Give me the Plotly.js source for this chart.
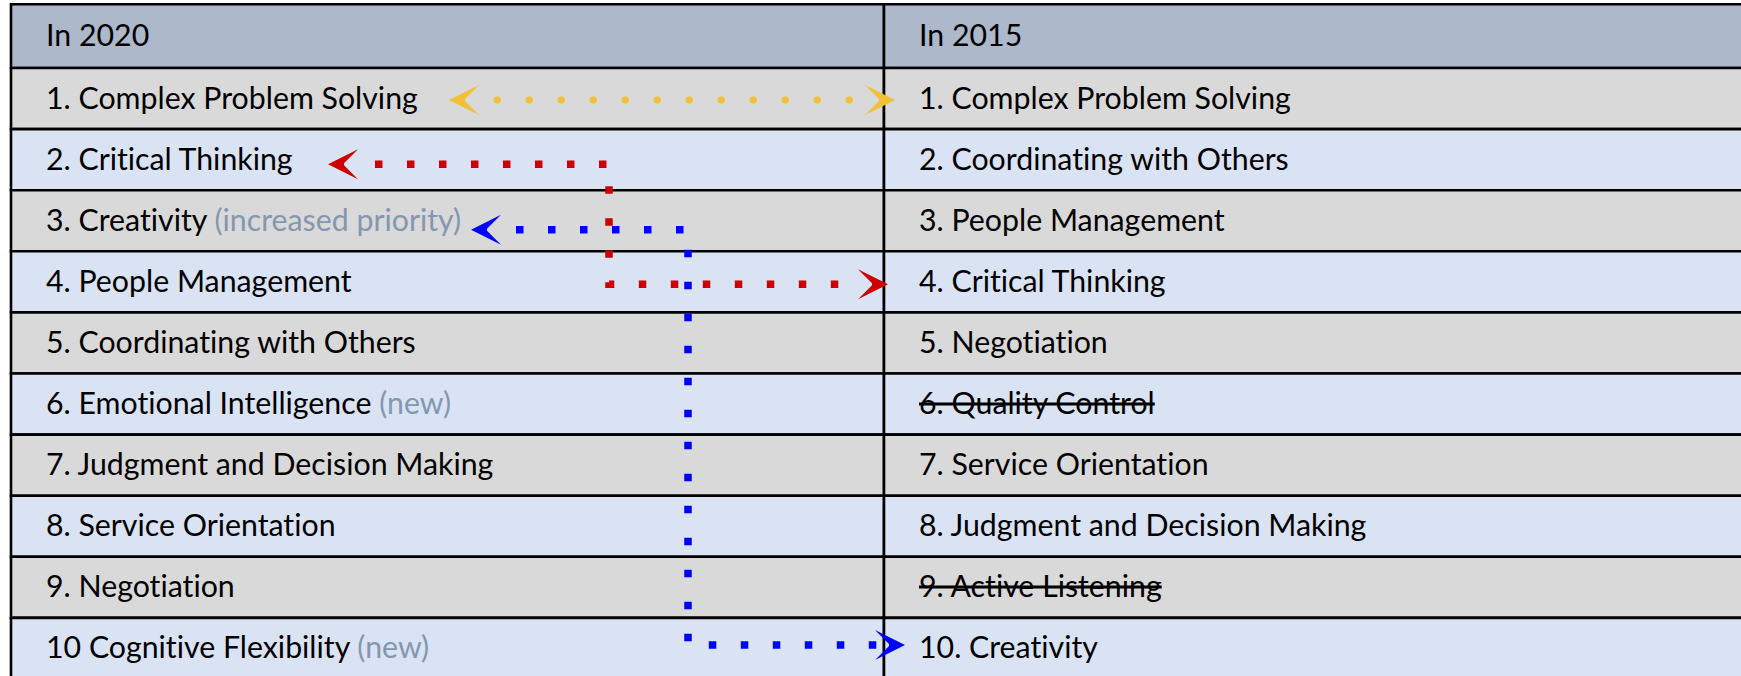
<!DOCTYPE html>
<html><head><meta charset="utf-8">
<script src="https://cdn.plot.ly/plotly-3.0.1.min.js"></script>
<style>html,body{margin:0;padding:0;background:#fff;overflow:hidden}
text{font-variant-ligatures:none;font-feature-settings:"liga" 0,"clig" 0;}</style>
</head><body><div id="chart" style="width:1741px;height:676px"></div>
<script>
// ---------- data ----------
const headers = ['In 2020', 'In 2015'];
const skills2020 = ['1. Complex Problem Solving', '2. Critical Thinking', '3. Creativity', '4. People Management',
  '5. Coordinating with Others', '6. Emotional Intelligence', '7. Judgment and Decision Making',
  '8. Service Orientation', '9. Negotiation', '10 Cognitive Flexibility'];
const notes2020 = ['', '', '(increased priority)', '', '', '(new)', '', '', '', '(new)'];
const skills2015 = ['1. Complex Problem Solving', '2. Coordinating with Others', '3. People Management',
  '4. Critical Thinking', '5. Negotiation', '6. Quality Control', '7. Service Orientation',
  '8. Judgment and Decision Making', '9. Active Listening', '10. Creativity'];
const dropped2015 = [false, false, false, false, false, true, false, false, true, false];
// skills linked between the two rankings
const linkSkills = ['Complex Problem Solving', 'Critical Thinking', 'Creativity'];
const linkRank2020 = [1, 2, 3];
const linkRank2015 = [1, 4, 10];

// ---------- style / geometry ----------
const W = 1741, H = 676;
const tableLeft = 11, divider = 884, tableRight = 1765;
const headTop = 4.3, headBottom = 68, rowH = 61.1;
const textPad = 33;
const fillHeader = '#ADB9CA', fillGray = '#D9D9D9', fillBlue = '#DAE3F3';
const noteColor = '#8497B0';
const FONT = 'Lato, "Noto Sans", sans-serif';
const FS = 30.3;
const linkColors = ['#F2C037', '#CC0000', '#0000FF'];
const linkLeftTip = [449, 328, 471];
const linkRightTip = [895, 888, 905];
const linkElbow = [null, 609, 688];
const linkStartOff = [1.5, 4.5, 9];
const linkEndOff = [1.5, 2.5, -3.5];
const linkDotStart = [497, 375, 516];
const linkDotEnd = [852, 840, 880];
const headBack = 16;

function rowTop(i) { return i === 0 ? headTop : headBottom + (i - 1) * rowH; }
function rowBot(i) { return i === 0 ? headBottom : headBottom + i * rowH; }
function rowMid(i) { return (rowTop(i) + rowBot(i)) / 2; }

const shapes = [];
const annotations = [];
const nRows = skills2020.length;
for (let i = 0; i <= nRows; i++) {
  const fill = i === 0 ? fillHeader : (i % 2 === 1 ? fillGray : fillBlue);
  [[tableLeft, divider], [divider, tableRight]].forEach(([x0, x1]) => {
    shapes.push({type: 'rect', xref: 'x', yref: 'y', x0: x0, x1: x1, y0: rowTop(i), y1: rowBot(i),
      fillcolor: fill, line: {color: '#000', width: 2.6}, layer: 'below'});
  });
}
function addText(x, y, text) {
  annotations.push({x: x, y: y, xref: 'x', yref: 'y', text: text, showarrow: false, yshift: 2,
    xanchor: 'left', yanchor: 'middle', font: {family: FONT, size: FS, color: '#000'}});
}
addText(tableLeft + textPad, rowMid(0), headers[0]);
addText(divider + textPad, rowMid(0), headers[1]);
for (let i = 0; i < nRows; i++) {
  let t = skills2020[i];
  if (notes2020[i]) t += ' <span style="color:' + noteColor + '">' + notes2020[i] + '</span>';
  addText(tableLeft + textPad, rowMid(i + 1), t);
  let t2 = dropped2015[i] ? '<s>' + skills2015[i] + '</s>' : skills2015[i];
  addText(divider + textPad, rowMid(i + 1), t2);
}

const traces = [];
for (let k = 0; k < linkSkills.length; k++) {
  const y0 = rowMid(linkRank2020[k]) + linkStartOff[k];
  const y1 = rowMid(linkRank2015[k]) + linkEndOff[k];
  let xs, ys;
  if (linkElbow[k] === null) { xs = [linkDotStart[k], linkDotEnd[k]]; ys = [y0, y1]; }
  else { xs = [linkDotStart[k], linkElbow[k], linkElbow[k], linkDotEnd[k]]; ys = [y0, y0, y1, y1]; }
  const round = k === 0;
  traces.push({type: 'scatter', mode: 'lines', x: xs, y: ys, name: linkSkills[k], hoverinfo: 'skip',
    line: {color: linkColors[k], width: round ? 7 : 7.5, dash: round ? '0.5px,31.5px' : '7.5px,24.5px'}});
  // arrow heads
  annotations.push({x: linkLeftTip[k], y: y0, ax: linkLeftTip[k] + headBack, ay: y0, xref: 'x', yref: 'y',
    axref: 'x', ayref: 'y', text: '', showarrow: true, arrowhead: 3, arrowsize: 2.5, arrowwidth: 2,
    arrowcolor: linkColors[k], standoff: 0, font: {size: 1}});
  annotations.push({x: linkRightTip[k], y: y1, ax: linkRightTip[k] - headBack, ay: y1, xref: 'x', yref: 'y',
    axref: 'x', ayref: 'y', text: '', showarrow: true, arrowhead: 3, arrowsize: 2.5, arrowwidth: 2,
    arrowcolor: linkColors[k], standoff: 0, font: {size: 1}});
}

const layout = {
  width: W, height: H, margin: {l: 0, r: 0, t: 0, b: 0},
  paper_bgcolor: '#fff', plot_bgcolor: '#fff', showlegend: false,
  xaxis: {range: [0, W], visible: false, fixedrange: true},
  yaxis: {range: [H, 0], visible: false, fixedrange: true},
  shapes: shapes, annotations: annotations
};
Plotly.newPlot('chart', traces, layout, {staticPlot: true, displayModeBar: false}).then(() => {
  const paths = document.querySelectorAll('.scatterlayer .trace path.js-line');
  if (paths[0]) paths[0].style.strokeLinecap = 'round';
});
</script></body></html>
